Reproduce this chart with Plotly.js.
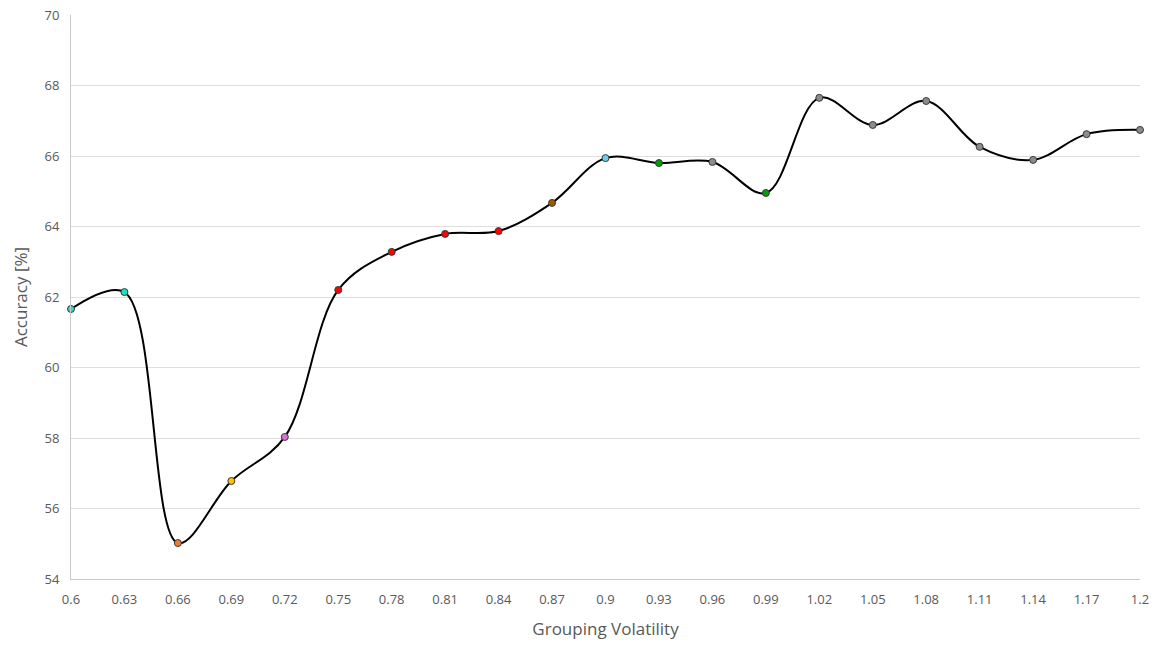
<!DOCTYPE html>
<html>
<head>
<meta charset="utf-8">
<script src="https://cdn.plot.ly/plotly-3.0.1.min.js"></script>
<style>html,body{margin:0;padding:0;background:#fff;}#chart{width:1163px;height:648px;}</style>
</head>
<body>
<div id="chart"></div>
<script>
const volatility = [0.6, 0.63, 0.66, 0.69, 0.72, 0.75, 0.78, 0.81, 0.84, 0.87, 0.9, 0.93, 0.96, 0.99, 1.02, 1.05, 1.08, 1.11, 1.14, 1.17, 1.2];
const tickLabels = ["0.6","0.63","0.66","0.69","0.72","0.75","0.78","0.81","0.84","0.87","0.9","0.93","0.96","0.99","1.02","1.05","1.08","1.11","1.14","1.17","1.2"];
const accuracy = [61.66, 62.14, 55.02, 56.78, 58.03, 62.20, 63.28, 63.79, 63.87, 64.67, 65.94, 65.80, 65.83, 64.95, 67.65, 66.88, 67.56, 66.26, 65.89, 66.62, 66.74];
const markerColors = ["#1fe0c0","#1fe0c0","#ed7d31","#ffc000","#da70d6","#ff0000","#ff0000","#ff0000","#ff0000","#9c5a00","#6fcdf0","#00a000","#8c8c8c","#00a000","#8c8c8c","#8c8c8c","#8c8c8c","#8c8c8c","#8c8c8c","#8c8c8c","#8c8c8c"];
const yTicks = [54, 56, 58, 60, 62, 64, 66, 68, 70];

const trace = {
  x: volatility,
  y: accuracy,
  type: 'scatter',
  mode: 'lines+markers',
  line: {color: '#000000', width: 2, shape: 'spline', smoothing: 1},
  marker: {size: 7, color: markerColors, line: {color: '#3a3a3a', width: 1}},
  cliponaxis: false,
  hoverinfo: 'x+y'
};

const layout = {
  width: 1163,
  height: 648,
  margin: {l: 71, r: 23, t: 15, b: 69},
  paper_bgcolor: '#ffffff',
  plot_bgcolor: '#ffffff',
  showlegend: false,
  font: {family: 'Open Sans, Roboto, sans-serif', color: '#595959'},
  xaxis: {
    range: [0.6, 1.2],
    tickvals: volatility,
    ticktext: tickLabels,
    showgrid: false,
    zeroline: false,
    showline: true,
    linecolor: '#c8c8c8',
    linewidth: 1,
    ticks: '',
    ticklabelstandoff: 8,
    tickfont: {size: 13, color: '#595959'},
    title: {text: 'Grouping Volatility', font: {size: 17, color: '#595959'}, standoff: 16}
  },
  yaxis: {
    range: [54, 70],
    tickvals: yTicks,
    showgrid: true,
    gridcolor: '#dedede',
    gridwidth: 1,
    zeroline: false,
    showline: true,
    linecolor: '#c8c8c8',
    linewidth: 1,
    ticks: '',
    ticklabelstandoff: 8,
    tickfont: {size: 13, color: '#595959'},
    title: {text: 'Accuracy [%]', font: {size: 17, color: '#595959'}, standoff: 12}
  }
};

Plotly.newPlot('chart', [trace], layout, {displayModeBar: false, staticPlot: true});
</script>
</body>
</html>
